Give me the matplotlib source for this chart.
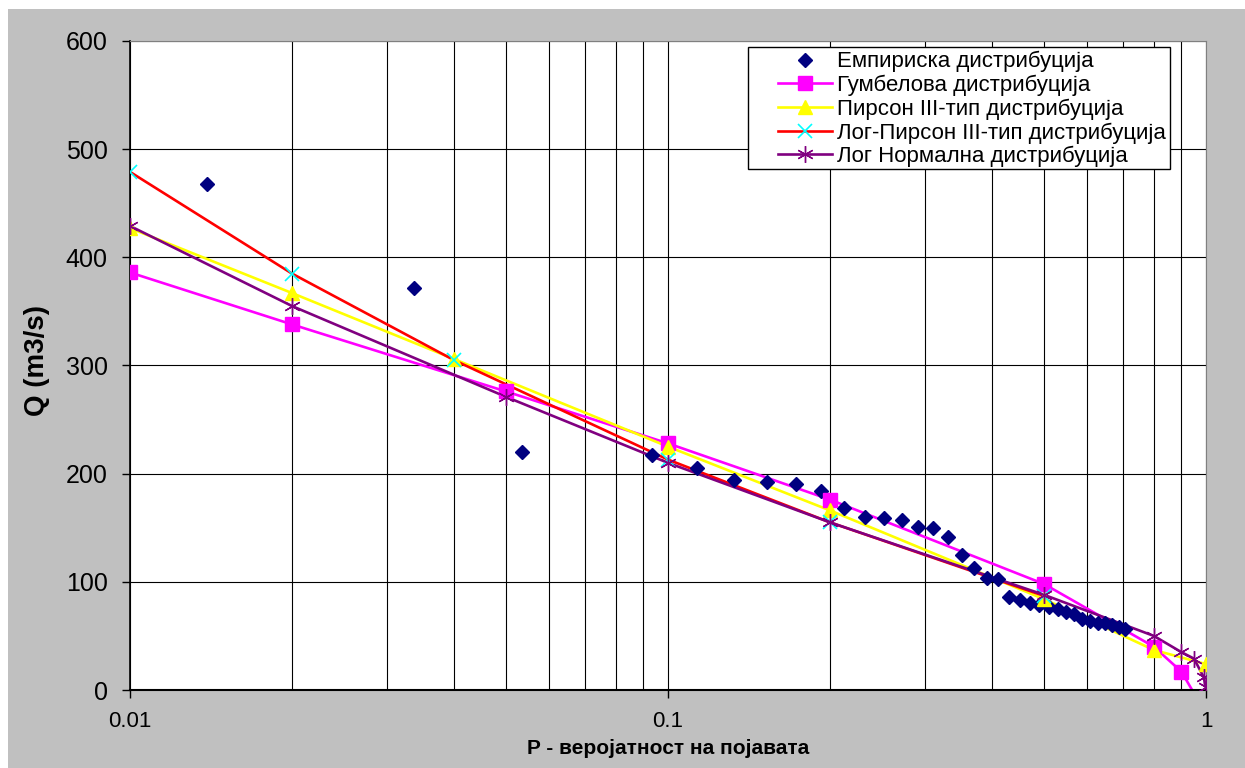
import matplotlib
matplotlib.use('Agg')
import matplotlib.pyplot as plt
from matplotlib.lines import Line2D
from matplotlib.patches import Rectangle
from matplotlib.ticker import FixedLocator, FixedFormatter, NullFormatter

plt.rcParams['font.family'] = ['Liberation Sans', 'DejaVu Sans']

# ---------------- data ----------------
emp_p = [0.0139, 0.0337, 0.0536, 0.0933, 0.1131, 0.1329, 0.1528, 0.1726,
         0.1925, 0.2123, 0.2321, 0.2520, 0.2718, 0.2917, 0.3115, 0.3313, 0.3512,
         0.3710, 0.3909, 0.4107, 0.4306, 0.4504, 0.4702, 0.4901, 0.5099, 0.5298,
         0.5496, 0.5694, 0.5893, 0.6091, 0.6290, 0.6488, 0.6687, 0.6885, 0.7083]
emp_q = [468, 372, 220, 217, 205, 194, 192, 190,
         184, 168, 160, 159, 157, 151, 150, 141, 125,
         113, 104, 103, 86, 83, 80, 79, 77, 75,
         72, 70, 66, 64, 62, 62, 60, 58, 56]

gum_p = [0.01, 0.02, 0.05, 0.1, 0.2, 0.5, 0.8, 0.9, 0.95]
gum_q = [386, 338, 276, 228, 176, 98, 40, 17, -3]

p3_p = [0.01, 0.02, 0.04, 0.1, 0.2, 0.5, 0.8, 0.999]
p3_q = [427, 367, 306, 225, 166, 84, 37, 24]

lp3_p = [0.01, 0.02, 0.04, 0.1, 0.2, 0.5]
lp3_q = [479, 385, 305, 213, 155, 87]

ln_p = [0.01, 0.02, 0.05, 0.1, 0.2, 0.5, 0.8, 0.9, 0.95, 0.99, 0.999]
ln_q = [429, 355, 271, 210, 155, 88, 50, 35, 29, 12, 3]

labels = ['Емпириска дистрибуција', 'Гумбелова дистрибуција',
          'Пирсон III-тип дистрибуција', 'Лог-Пирсон III-тип дистрибуција',
          'Лог Нормална дистрибуција']
x_major = [0.01, 0.1, 1]
x_major_labels = ['0.01', '0.1', '1']
x_minor = [0.02, 0.03, 0.04, 0.05, 0.06, 0.07, 0.08, 0.09,
           0.2, 0.3, 0.4, 0.5, 0.6, 0.7, 0.8, 0.9]
y_ticks = [0, 100, 200, 300, 400, 500, 600]

# ---------------- figure ----------------
W, H = 1245, 768
fig = plt.figure(figsize=(W / 100, H / 100), dpi=100, facecolor='white')
fig.patches.append(Rectangle((8 / W, 0), 1 - 8 / W, 1 - 9 / H, transform=fig.transFigure,
                             facecolor='#C0C0C0', edgecolor='none', zorder=-10))

ax = fig.add_axes([130 / W, 78 / H, 1076 / W, 649 / H])
ax.set_facecolor('white')
ax.set_xscale('log')
ax.set_xlim(0.01, 1)
ax.set_ylim(0, 600)

ax.xaxis.set_major_locator(FixedLocator(x_major))
ax.xaxis.set_major_formatter(FixedFormatter(x_major_labels))
ax.xaxis.set_minor_locator(FixedLocator(x_minor))
ax.xaxis.set_minor_formatter(NullFormatter())
ax.yaxis.set_major_locator(FixedLocator(y_ticks))
ax.yaxis.set_minor_locator(FixedLocator([]))

ax.grid(True, which='both', axis='x', color='black', lw=0.8, zorder=0)
ax.grid(True, which='major', axis='y', color='black', lw=0.8, zorder=0)
ax.set_axisbelow(True)
for s in ['top', 'right']:
    ax.spines[s].set_color('#808080')
    ax.spines[s].set_linewidth(0.8)
ax.spines['left'].set_linewidth(1.2)
ax.spines['bottom'].set_linewidth(1.5)

ax.tick_params(axis='both', which='major', direction='out', length=6, width=1, colors='black')
ax.tick_params(axis='x', which='major', pad=9, labelsize=16)
ax.tick_params(axis='y', which='major', pad=10, labelsize=18)
ax.tick_params(axis='both', which='minor', length=0)

fig.text(37 / W, 1 - 360 / H, 'Q (m3/s)', rotation=90, ha='center', va='center',
         fontsize=20, fontweight='bold')
fig.text(668 / W, 1 - 748 / H, 'P - веројатност на појавата', ha='center', va='center',
         fontsize=15, fontweight='bold')

lw = 1.9
styles = [
    dict(color='#FF00FF', marker='s', ms=10, mfc='#FF00FF', mec='#FF00FF'),
    dict(color='#FFFF00', marker='^', ms=10, mfc='#FFFF00', mec='#FFFF00'),
    dict(color='#FF0000', marker='x', ms=10, mfc='#00FFFF', mec='#00FFFF', mew=1.2),
    dict(color='#800080', marker=(6, 2, 0), ms=12, mfc='#800080', mec='#800080', mew=1.0),
]
series = [(gum_p, gum_q), (p3_p, p3_q), (lp3_p, lp3_q), (ln_p, ln_q)]

# lines first
for (px, qy), st in zip(series, styles):
    ax.plot(px, qy, color=st['color'], lw=lw, zorder=2)

# markers on top (only points inside the plot range)
ax.plot(emp_p, emp_q, linestyle='none', marker='D', ms=7, color='#000080', zorder=3)
for (px, qy), st in zip(series, styles):
    idx = [i for i, v in enumerate(qy) if v >= 0]
    ax.plot([px[i] for i in idx], [qy[i] for i in idx], linestyle='none',
            marker=st['marker'], ms=st['ms'], mfc=st['mfc'], mec=st['mec'],
            mew=st.get('mew', 1.0), zorder=3)

# legend box (drawn separately for exact placement)
ax.add_patch(Rectangle((748 / W, 1 - 169 / H), (1170 - 748) / W, (169 - 47) / H,
                       transform=fig.transFigure, facecolor='white', edgecolor='black',
                       lw=1.0, clip_on=False, zorder=4))

handles = [Line2D([], [], linestyle='none', marker='D', ms=7, color='#000080')]
for st in styles:
    handles.append(Line2D([], [], color=st['color'], lw=lw, marker=st['marker'], ms=st['ms'],
                          mfc=st['mfc'], mec=st['mec'], mew=st.get('mew', 1.0)))
leg = ax.legend(handles, labels, loc='upper left', bbox_to_anchor=(778 / W, 1 - 51 / H),
                bbox_transform=fig.transFigure, fontsize=16, frameon=False,
                borderaxespad=0, handlelength=2.45, labelspacing=0.11, handletextpad=0.22,
                borderpad=0.0)
leg.set_zorder(5)

fig.savefig('out.png', dpi=100, facecolor=fig.get_facecolor())
